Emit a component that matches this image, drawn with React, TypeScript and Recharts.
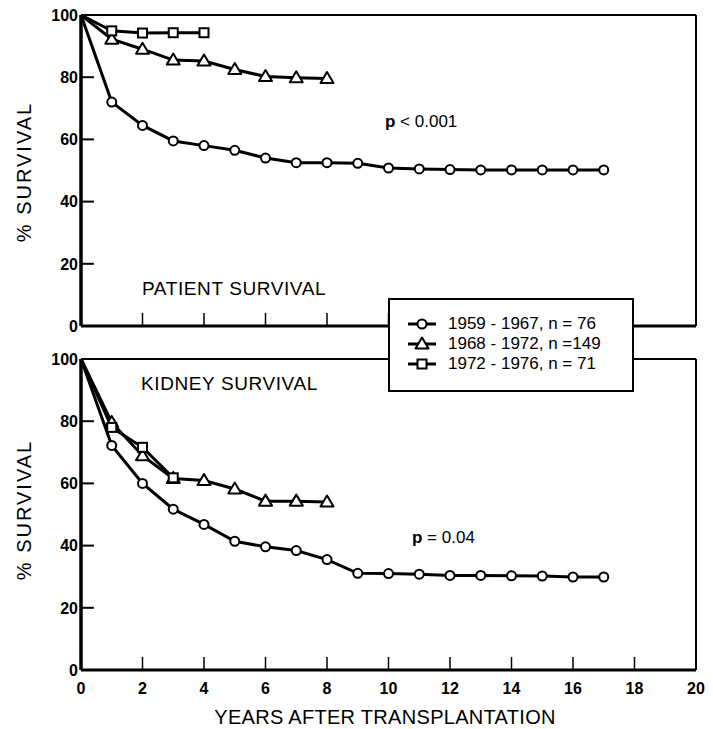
import React from 'react';
import { LineChart, Line, XAxis, YAxis, Legend, Customized, ReferenceLine } from 'recharts';

// years after transplantation
const years = [0, 1, 2, 3, 4, 5, 6, 7, 8, 9, 10, 11, 12, 13, 14, 15, 16, 17];

// patient survival (%)
const patient1959 = [100, 72, 64.5, 59.5, 58, 56.5, 54, 52.5, 52.5, 52.3, 50.8, 50.5, 50.3, 50.2, 50.2, 50.2, 50.2, 50.2];
const patient1968 = [100, 92.2, 89, 85.5, 85.2, 82.5, 80.2, 79.8, 79.6];
const patient1972 = [100, 94.9, 94.2, 94.3, 94.3];

// kidney survival (%)
const kidney1959 = [100, 72.2, 60, 51.7, 46.8, 41.4, 39.6, 38.4, 35.5, 31.1, 31, 30.8, 30.4, 30.4, 30.3, 30.2, 29.9, 29.9];
const kidney1968 = [100, 79.6, 68.9, 61.6, 60.9, 58.2, 54.3, 54.3, 54];
const kidney1972 = [100, 78, 71.6, 61.8];

const xTicks = [0, 2, 4, 6, 8, 10, 12, 14, 16, 18, 20];
const topXTicks = [0, 2, 4, 6, 8, 10];
const yTicks = [0, 20, 40, 60, 80, 100];
const seriesLabels = ['1959 - 1967, n = 76', '1968 - 1972, n =149', '1972 - 1976, n = 71'];

const FONT = '"Liberation Sans", Arial, sans-serif';

// inward tick length, in axis units (~13px)
const X_TICK_LEN = 4.2;
const Y_TICK_LEN = 0.42;

const rows = (vals: number[]) => vals.map((v, i) => ({ year: years[i], pct: v }));

function CircleMark({ cx, cy }: any) {
  return <circle cx={cx} cy={cy} r={4.5} fill="#fff" stroke="#000" strokeWidth={2} />;
}
function TriangleMark({ cx, cy }: any) {
  return (
    <polygon
      points={`${cx},${cy - 6.5} ${cx - 6.5},${cy + 4.5} ${cx + 6.5},${cy + 4.5}`}
      fill="#fff"
      stroke="#000"
      strokeWidth={2}
      strokeLinejoin="round"
    />
  );
}
function SquareMark({ cx, cy }: any) {
  return <rect x={cx - 4.5} y={cy - 4.5} width={9} height={9} fill="#fff" stroke="#000" strokeWidth={2} />;
}

const markerDot = (Shape: any) => (props: any) => {
  const { cx, cy, index } = props;
  if (index === 0 || cx == null || cy == null) return <g key={`d${index}`} />;
  return <Shape key={`d${index}`} cx={cx} cy={cy} />;
};

const shapes = [CircleMark, TriangleMark, SquareMark];

function YTickLabel(props: any) {
  const { x, y, payload } = props;
  return (
    <text x={x} y={y} dy="0.36em" textAnchor="end" fontSize={16} fontWeight="bold" fontFamily={FONT} fill="#000">
      {payload.value}
    </text>
  );
}

function XTickLabel(props: any) {
  const { x, y, payload, showLabel } = props;
  if (!showLabel) return <g />;
  return (
    <text x={x} y={y} textAnchor="middle" fontSize={16} fontWeight="bold" fontFamily={FONT} fill="#000">
      {payload.value}
    </text>
  );
}

function LegendBox() {
  return (
    <div
      style={{
        boxSizing: 'border-box',
        width: 246,
        height: 94,
        border: '2px solid #000',
        background: '#fff',
        padding: '14px 0 0 18px',
        fontFamily: FONT,
        fontSize: 17,
        lineHeight: '20px',
        color: '#000',
      }}
    >
      {seriesLabels.map((label, i) => {
        const Shape = shapes[i];
        return (
          <div key={label} style={{ display: 'flex', alignItems: 'center', height: 20 }}>
            <svg width={28} height={16} style={{ marginRight: 12 }}>
              <line x1={0} x2={28} y1={8} y2={8} stroke="#000" strokeWidth={3} />
              <Shape cx={14} cy={8} />
            </svg>
            <span>{label}</span>
          </div>
        );
      })}
    </div>
  );
}

const yLabel = (cy: number) => (
  <text
    x={31}
    y={cy}
    transform={`rotate(-90 31 ${cy})`}
    textAnchor="middle"
    fontSize={20}
    letterSpacing={2}
    fontFamily={FONT}
    fill="#000"
  >
    % SURVIVAL
  </text>
);

function TopNotes() {
  return (
    <g>
      {yLabel(172)}
      <text x={142} y={295} fontSize={19} letterSpacing={0.6} fontFamily={FONT} fill="#000">
        PATIENT SURVIVAL
      </text>
      <text x={385} y={127} fontSize={17} fontFamily={FONT} fill="#000">
        <tspan fontWeight="bold">p</tspan> &lt; 0.001
      </text>
    </g>
  );
}

function BottomNotes() {
  return (
    <g>
      {yLabel(170)}
      <text x={141} y={50} fontSize={19} letterSpacing={0.6} fontFamily={FONT} fill="#000">
        KIDNEY SURVIVAL
      </text>
      <text x={412} y={203} fontSize={17} fontFamily={FONT} fill="#000">
        <tspan fontWeight="bold">p</tspan> = 0.04
      </text>
      <text x={385} y={384} textAnchor="middle" fontSize={20} letterSpacing={0.3} fontFamily={FONT} fill="#000">
        YEARS AFTER TRANSPLANTATION
      </text>
    </g>
  );
}

function Panel({ series, height, margin, xHeight, ticks, showLabels, notes, legend }: any) {
  return (
    <LineChart width={713} height={height} margin={margin}>
      <XAxis
        dataKey="year"
        type="number"
        domain={[0, 20]}
        ticks={ticks}
        interval={0}
        height={xHeight}
        tickSize={0}
        tickMargin={24}
        tickLine={false}
        axisLine={{ stroke: '#000', strokeWidth: 3 }}
        tick={(p: any) => <XTickLabel {...p} showLabel={showLabels} />}
      />
      <YAxis
        type="number"
        domain={[0, 100]}
        ticks={yTicks}
        interval={0}
        width={40}
        tickSize={0}
        tickMargin={3}
        tickLine={false}
        axisLine={{ stroke: '#000', strokeWidth: 3.5 }}
        tick={(p: any) => <YTickLabel {...p} />}
      />
      <ReferenceLine x={20} stroke="#000" strokeWidth={2} />
      <ReferenceLine y={100} stroke="#000" strokeWidth={2} />
      {ticks
        .filter((t: number) => t > 0 && t < 20)
        .map((t: number) => (
          <ReferenceLine
            key={`xt${t}`}
            segment={[
              { x: t, y: 0 },
              { x: t, y: X_TICK_LEN },
            ]}
            stroke="#000"
            strokeWidth={1.5}
          />
        ))}
      {yTicks
        .filter((v) => v > 0 && v < 100)
        .map((v) => (
          <ReferenceLine
            key={`yt${v}`}
            segment={[
              { x: 0, y: v },
              { x: Y_TICK_LEN, y: v },
            ]}
            stroke="#000"
            strokeWidth={2}
          />
        ))}
      {series.map((vals: number[], i: number) => (
        <Line
          key={seriesLabels[i]}
          data={rows(vals)}
          dataKey="pct"
          name={seriesLabels[i]}
          type="linear"
          stroke="#000"
          strokeWidth={3}
          dot={markerDot(shapes[i])}
          activeDot={false}
          isAnimationActive={false}
        />
      ))}
      {legend && (
        <Legend
          layout="vertical"
          align="center"
          verticalAlign="middle"
          content={LegendBox}
          wrapperStyle={{ left: 388, top: 298, width: 246, height: 94, zIndex: 5 }}
        />
      )}
      <Customized component={notes} />
    </LineChart>
  );
}

export default function App() {
  return (
    <div style={{ position: 'absolute', left: 0, top: 0, width: 713, height: 729, background: '#fff', fontFamily: FONT }}>
      <div style={{ position: 'absolute', left: 0, top: 340 }}>
        <Panel
          series={[kidney1959, kidney1968, kidney1972]}
          height={389}
          margin={{ top: 19, right: 17, bottom: 0, left: 41 }}
          xHeight={59}
          ticks={xTicks}
          showLabels
          notes={BottomNotes}
        />
      </div>
      <div style={{ position: 'absolute', left: 0, top: 0, zIndex: 2 }}>
        <Panel
          series={[patient1959, patient1968, patient1972]}
          height={340}
          margin={{ top: 15, right: 17, bottom: 0, left: 41 }}
          xHeight={14}
          ticks={topXTicks}
          showLabels={false}
          notes={TopNotes}
          legend
        />
      </div>
    </div>
  );
}
